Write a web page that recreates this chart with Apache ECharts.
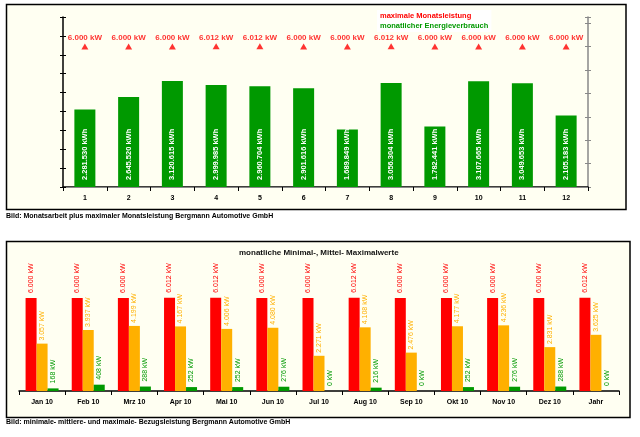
<!DOCTYPE html>
<html><head><meta charset="utf-8">
<script src="https://cdn.jsdelivr.net/npm/echarts@6/dist/echarts.min.js"></script>
<style>html,body{margin:0;padding:0;background:#fff}#c{width:640px;height:437px}</style>
</head><body><div id="c"></div>
<script>
// ---- Top chart data ----
const months = ['1','2','3','4','5','6','7','8','9','10','11','12'];
const energyKWh = [2281530, 2645520, 3120615, 2999985, 2960704, 2901616, 1689849, 3056304, 1782441, 3107665, 3049653, 2105183];
const maxPowerKW = [6.000, 6.000, 6.000, 6.012, 6.012, 6.000, 6.000, 6.012, 6.000, 6.000, 6.000, 6.000];
// ---- Bottom chart data ----
const periods = ['Jan 10','Feb 10','Mrz 10','Apr 10','Mai 10','Jun 10','Jul 10','Aug 10','Sep 10','Okt 10','Nov 10','Dez 10','Jahr'];
const maxKW  = [6.000, 6.000, 6.000, 6.012, 6.012, 6.000, 6.000, 6.012, 6.000, 6.000, 6.000, 6.000, 6.012];
const meanKW = [3.057, 3.937, 4.199, 4.167, 4.006, 4.080, 2.271, 4.108, 2.476, 4.177, 4.236, 2.831, 3.625];
const minKW  = [0.168, 0.408, 0.288, 0.252, 0.252, 0.276, 0, 0.216, 0, 0.252, 0.276, 0.288, 0];

const FONT = 'Liberation Sans';
const NARROW = 'Liberation Sans Narrow, Liberation Sans';
const GREEN = '#009900', RED = '#ff0000', ORANGE = '#ffb000', CREAM = '#fffff2';

function deInt(n){ return String(Math.round(n)).replace(/\B(?=(\d{3})+(?!\d))/g,'.'); }
function deDec(n){ return n.toFixed(3); }

const chart = echarts.init(document.getElementById('c'), null, {renderer:'canvas'});
chart.setOption({
  animation:false,
  backgroundColor:'#fff',
  textStyle:{fontFamily:FONT},
  graphic:[
    {type:'rect', z:-10, shape:{x:6.5,y:4.5,width:619.5,height:205}, style:{fill:CREAM, stroke:'#000', lineWidth:1.5}},
    {type:'rect', z:-10, shape:{x:6.5,y:241.5,width:623.5,height:176}, style:{fill:CREAM, stroke:'#000', lineWidth:1.5}},
    {type:'text', left:6, top:213, style:{text:'Bild: Monatsarbeit plus maximaler Monatsleistung Bergmann Automotive GmbH', font:'bold 7px '+FONT, fill:'#000'}},
    {type:'text', left:6, top:419, style:{text:'Bild: minimale- mittlere- und maximale- Bezugsleistung Bergmann Automotive GmbH', font:'bold 7px '+FONT, fill:'#000'}}
  ],
  title:{text:'monatliche Minimal-, Mittel- Maximalwerte', left:239, top:249, padding:0,
    textStyle:{fontSize:8, fontWeight:'bold', color:'#111', fontFamily:FONT}},
  legend:{left:377, top:10, orient:'vertical', backgroundColor:'#fff', padding:[2,3,2,3], itemGap:2,
    icon:'none', itemWidth:0, itemHeight:8, selectedMode:false,
    textStyle:{fontSize:7.5, fontWeight:'bold', fontFamily:FONT, padding:[0,0,0,-5]},
    data:[{name:'maximale Monatsleistung', textStyle:{color:RED}},
          {name:'monatlicher Energieverbrauch', textStyle:{color:GREEN}}]},
  grid:[
    {left:63, top:17, width:525, height:170},
    {left:19, top:267, width:600, height:124}
  ],
  xAxis:[
    {gridIndex:0, type:'category', data:months, boundaryGap:true,
      axisLine:{lineStyle:{color:'#000', width:1.5}},
      axisTick:{show:true, length:4, lineStyle:{color:'#000'}},
      axisLabel:{fontSize:7, fontWeight:'bold', color:'#000', margin:8, fontFamily:FONT}},
    {gridIndex:0, type:'category', data:months, position:'top',
      axisLine:{lineStyle:{color:'#888', width:1}}, axisTick:{show:false}, axisLabel:{show:false}},
    {gridIndex:1, type:'category', data:periods, boundaryGap:true,
      axisLine:{lineStyle:{color:'#000', width:1.5}},
      axisTick:{show:true, length:4, lineStyle:{color:'#000'}},
      axisLabel:{fontSize:7, fontWeight:'bold', color:'#000', margin:8, fontFamily:FONT}}
  ],
  yAxis:[
    {gridIndex:0, type:'value', position:'left', min:0, max:9, interval:1,
      axisLine:{show:true, lineStyle:{color:'#000', width:1.5}},
      axisTick:{show:true, length:3, lineStyle:{color:'#000'}},
      axisLabel:{show:false}, splitLine:{show:false}},
    {gridIndex:0, type:'value', position:'right', min:0, max:7.265, interval:1,
      axisLine:{show:true, lineStyle:{color:'#888', width:1.5}},
      axisTick:{show:true, length:3, lineStyle:{color:'#888'}},
      axisLabel:{show:false}, splitLine:{show:false}},
    {gridIndex:0, type:'value', min:0, max:5000000, show:false, splitLine:{show:false}},
    {gridIndex:0, type:'value', position:'left', min:0, max:9, interval:1,
      axisLine:{show:false}, axisTick:{show:true, inside:true, length:3, lineStyle:{color:'#000'}},
      axisLabel:{show:false}, splitLine:{show:false}},
    {gridIndex:0, type:'value', position:'right', min:0, max:7.265, interval:1,
      axisLine:{show:false}, axisTick:{show:true, inside:true, length:3, lineStyle:{color:'#888'}},
      axisLabel:{show:false}, splitLine:{show:false}},
    {gridIndex:1, type:'value', min:0, max:8, show:false, splitLine:{show:false}}
  ],
  series:[
    {name:'monatlicher Energieverbrauch', type:'bar', xAxisIndex:0, yAxisIndex:2, data:energyKWh,
      barWidth:21, itemStyle:{color:GREEN}, z:3,
      label:{show:true, position:'insideBottom', rotate:90, align:'left', verticalAlign:'middle', distance:7,
        color:'#fff', fontSize:7.5, fontWeight:'bold', fontFamily:FONT,
        formatter:p=>deInt(p.value)+' kWh'}},
    {name:'maximale Monatsleistung', type:'scatter', xAxisIndex:0, yAxisIndex:1, data:maxPowerKW,
      symbol:'triangle', symbolSize:[7,6], itemStyle:{color:RED}, z:4,
      label:{show:true, position:'top', distance:2, color:RED, fontSize:8, fontWeight:'bold', fontFamily:FONT,
        formatter:p=>deDec(p.value)+' kW'}},
    {name:'Maximum', type:'bar', xAxisIndex:2, yAxisIndex:5, data:maxKW, barWidth:11, barGap:'0%',
      itemStyle:{color:RED}, z:3,
      label:{show:true, position:'top', rotate:90, align:'left', verticalAlign:'middle', distance:5,
        color:RED, fontSize:7, fontFamily:NARROW, formatter:p=>deDec(p.value)+' kW'}},
    {name:'Mittel', type:'bar', xAxisIndex:2, yAxisIndex:5, data:meanKW, barWidth:11, barGap:'0%',
      itemStyle:{color:ORANGE}, z:3,
      label:{show:true, position:'top', rotate:90, align:'left', verticalAlign:'middle', distance:3,
        color:ORANGE, fontSize:7, fontFamily:NARROW, formatter:p=>deDec(p.value)+' kW'}},
    {name:'Minimum', type:'bar', xAxisIndex:2, yAxisIndex:5, data:minKW, barWidth:11, barGap:'0%',
      itemStyle:{color:GREEN}, z:3,
      label:{show:true, position:'top', rotate:90, align:'left', verticalAlign:'middle', distance:5,
        color:GREEN, fontSize:7, fontFamily:NARROW, formatter:p=>Math.round(p.value*1000)+' kW'}}
  ]
});
</script></body></html>
